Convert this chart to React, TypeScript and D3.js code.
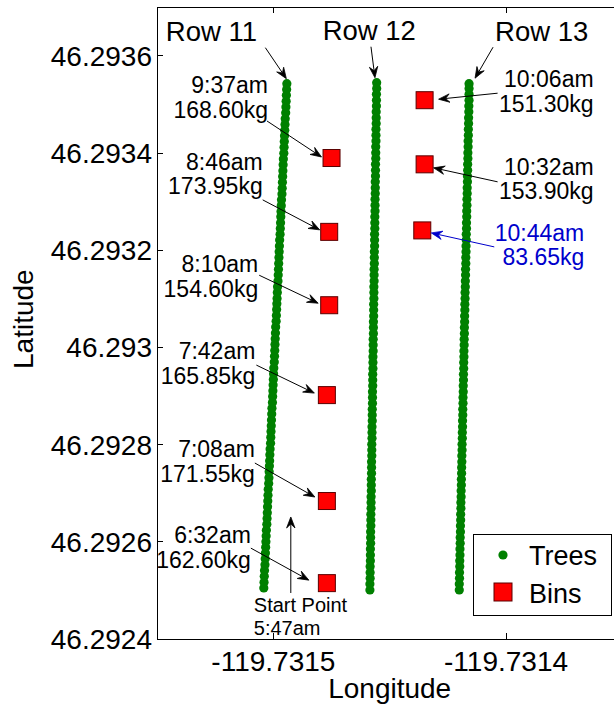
import React from 'react';
import * as d3 from 'd3';

// tree positions: latitude in 1e-6 deg above LAT_BASE, longitude in 1e-7 deg east of LON_BASE
const LAT_BASE = 46.29;
const LON_BASE = -119.7315;

const row11Lat = [
  2505, 2517, 2529, 2541, 2553, 2565, 2577, 2589, 2600, 2612,
  2624, 2636, 2648, 2660, 2672, 2684, 2696, 2708, 2720, 2732,
  2744, 2756, 2767, 2779, 2791, 2803, 2815, 2827, 2839, 2851,
  2863, 2875, 2887, 2899, 2911, 2923, 2934, 2946, 2958, 2970,
  2982, 2994, 3006, 3018, 3030, 3042, 3054, 3066, 3078, 3090,
  3101, 3113, 3125, 3137, 3149, 3161, 3173, 3185, 3197, 3209,
  3221, 3233, 3245, 3257, 3269, 3280, 3292, 3304, 3316, 3328,
  3340, 3352, 3364, 3376, 3388, 3400, 3412, 3424, 3436, 3447,
  3459, 3471, 3483, 3495, 3507, 3519, 3531, 3543,
];
const row11Lon = [
  -41, -40, -39, -38, -36, -35, -34, -33, -32, -31,
  -30, -28, -27, -26, -25, -24, -23, -22, -20, -19,
  -18, -17, -16, -15, -14, -12, -11, -10, -9, -8,
  -7, -6, -4, -3, -2, -1, 0, 1, 2, 4,
  5, 6, 7, 8, 9, 10, 12, 13, 14, 15,
  16, 17, 18, 20, 21, 22, 23, 24, 25, 26,
  27, 29, 30, 31, 32, 33, 34, 35, 37, 38,
  39, 40, 41, 42, 43, 45, 46, 47, 48, 49,
  50, 51, 53, 54, 55, 56, 57, 58,
];
const row12Lat = [
  2501, 2513, 2525, 2537, 2549, 2561, 2573, 2585, 2597, 2609,
  2621, 2633, 2645, 2657, 2669, 2681, 2693, 2705, 2717, 2729,
  2741, 2753, 2765, 2777, 2789, 2801, 2813, 2825, 2837, 2849,
  2861, 2873, 2885, 2897, 2909, 2921, 2933, 2945, 2957, 2969,
  2981, 2993, 3005, 3017, 3029, 3041, 3053, 3065, 3077, 3089,
  3101, 3113, 3125, 3137, 3149, 3161, 3173, 3185, 3197, 3209,
  3221, 3233, 3245, 3257, 3269, 3281, 3293, 3305, 3317, 3329,
  3341, 3353, 3365, 3377, 3389, 3401, 3413, 3425, 3437, 3449,
  3461, 3473, 3485, 3497, 3509, 3521, 3533, 3545,
];
const row12Lon = [
  415, 415, 416, 416, 416, 417, 417, 417, 418, 418,
  418, 419, 419, 419, 420, 420, 420, 421, 421, 421,
  422, 422, 422, 423, 423, 423, 424, 424, 424, 425,
  425, 425, 426, 426, 426, 427, 427, 427, 428, 428,
  428, 429, 429, 429, 430, 430, 430, 431, 431, 431,
  432, 432, 432, 433, 433, 433, 434, 434, 434, 435,
  435, 435, 436, 436, 436, 437, 437, 437, 438, 438,
  438, 439, 439, 439, 440, 440, 440, 441, 441, 441,
  442, 442, 442, 443, 443, 443, 444, 444,
];
const row13Lat = [
  2501, 2513, 2525, 2537, 2549, 2561, 2573, 2585, 2597, 2609,
  2621, 2633, 2645, 2657, 2669, 2681, 2693, 2705, 2717, 2729,
  2741, 2753, 2765, 2777, 2789, 2801, 2813, 2825, 2837, 2849,
  2861, 2873, 2885, 2897, 2909, 2921, 2933, 2945, 2957, 2969,
  2981, 2993, 3005, 3017, 3029, 3041, 3053, 3065, 3077, 3089,
  3101, 3113, 3125, 3137, 3149, 3161, 3173, 3185, 3197, 3209,
  3221, 3233, 3245, 3257, 3269, 3281, 3293, 3305, 3317, 3329,
  3341, 3353, 3365, 3377, 3389, 3401, 3413, 3425, 3437, 3449,
  3461, 3473, 3485, 3497, 3509, 3521, 3533, 3543,
];
const row13Lon = [
  799, 799, 800, 800, 801, 801, 802, 802, 803, 803,
  804, 804, 805, 805, 806, 806, 807, 807, 808, 808,
  809, 809, 810, 810, 811, 811, 812, 812, 813, 813,
  814, 814, 815, 815, 816, 816, 817, 817, 818, 818,
  819, 819, 820, 820, 821, 821, 822, 822, 823, 823,
  824, 824, 825, 825, 826, 826, 827, 827, 828, 828,
  829, 829, 830, 830, 831, 831, 832, 832, 833, 833,
  834, 834, 835, 835, 836, 836, 837, 837, 838, 838,
  839, 839, 840, 840, 841, 841, 841, 841,
];
const rowNames = ['Row 11', 'Row 12', 'Row 13'];

// bins, in order of pickup
const binTimes = ['6:32am', '7:08am', '7:42am', '8:10am', '8:46am', '9:37am', '10:06am', '10:32am', '10:44am'];
const binWeights = [162.6, 171.55, 165.85, 154.6, 173.95, 168.6, 151.3, 153.9, 83.65];
const binLon = [-119.731477, -119.731477, -119.731477, -119.731476, -119.731476, -119.731475, -119.731435, -119.731435, -119.731436];
const binLat = [46.292515, 46.292684, 46.292902, 46.293087, 46.293238, 46.29339, 46.293509, 46.293377, 46.293241];
const startTime = '5:47am';

const latTicks = [46.2924, 46.2926, 46.2928, 46.293, 46.2932, 46.2934, 46.2936];
const lonTicks = [-119.7315, -119.7314];

// label / arrow placement relative to each bin (px): text anchor, arrow tail, arrow tip
const binLabelLayout = [
  { lx: -76, ly: -40, tx: -76, ty: -35, hx: -18, hy: -3, color: '#000' },
  { lx: -72, ly: -44, tx: -72, ty: -38, hx: -12, hy: -4, color: '#000' },
  { lx: -71.5, ly: -36, tx: -70.5, ty: -30, hx: -12.5, hy: -2, color: '#000' },
  { lx: -71, ly: -33, tx: -70, ty: -30, hx: -11, hy: -2, color: '#000' },
  { lx: -66.5, ly: -62, tx: -66.5, ty: -32, hx: -9.5, hy: -2, color: '#000' },
  { lx: -63.5, ly: -65, tx: -64.5, ty: -37, hx: -10, hy: -1, color: '#000' },
  { lx: 169, ly: -13, tx: 73, ty: -7, hx: 14, hy: -1, color: '#000' },
  { lx: 169, ly: 10.5, tx: 73, ty: 17.5, hx: 9, hy: 3.5, color: '#000' },
  { lx: 162, ly: 10.5, tx: 72, ty: 16.5, hx: 9, hy: 2.5, color: '#0000cc' },
];
// row label placement relative to the top tree of each row
const rowLabelLayout = [
  { lx: -121, ly: -43, tx: -21.5, ty: -36, hx: -0.5, hy: -5 },
  { lx: -54, ly: -43, tx: -5.7, ty: -36, hx: -1.7, hy: -5 },
  { lx: 26, ly: -43, tx: 24, ty: -36.5, hx: 6, hy: -5.5 },
];

const W = 614;
const H = 706;
const FONT = "'Liberation Sans', Arial, Helvetica, sans-serif";
const GREEN = '#008000';

function arrowHead(x1: number, y1: number, x2: number, y2: number, len = 11, half = 4.2, notch = 7) {
  const a = Math.atan2(y2 - y1, x2 - x1);
  const c = Math.cos(a);
  const s = Math.sin(a);
  const bx = x2 - len * c;
  const by = y2 - len * s;
  const nx = x2 - notch * c;
  const ny = y2 - notch * s;
  return {
    head: `M${x2},${y2}L${bx - half * s},${by + half * c}L${nx},${ny}L${bx + half * s},${by - half * c}Z`,
    nx,
    ny,
  };
}

function Arrow({ x1, y1, x2, y2, color = '#000' }: { x1: number; y1: number; x2: number; y2: number; color?: string }) {
  const a = arrowHead(x1, y1, x2, y2);
  return (
    <g>
      <line x1={x1} y1={y1} x2={a.nx} y2={a.ny} stroke={color} strokeWidth={1} />
      <path d={a.head} fill={color} stroke={color} strokeWidth={0.8} />
    </g>
  );
}

const App = () => {
  const x = d3.scaleLinear().domain([-119.73155, -119.73135]).range([157, 622.4]);
  const y = d3.scaleLinear().domain([46.2924, 46.2937]).range([639, 7.4]);
  const [x0, x1] = x.range();
  const [y0, y1] = y.range();

  const rows = [
    { lat: row11Lat, lon: row11Lon },
    { lat: row12Lat, lon: row12Lon },
    { lat: row13Lat, lon: row13Lon },
  ].map(r => r.lat.map((la, i) => ({ px: x(LON_BASE + r.lon[i] * 1e-7), py: y(LAT_BASE + la * 1e-6) })));

  const bins = binTimes.map((t, i) => ({
    time: t,
    weight: binWeights[i].toFixed(2) + 'kg',
    px: x(binLon[i]),
    py: y(binLat[i]),
    ...binLabelLayout[i],
  }));

  const start = rows[0][0];
  const binSize = 17;

  return (
    <svg width={W} height={H} style={{ position: 'absolute', left: 0, top: 0, background: '#fff' }} fontFamily={FONT}>
      <rect width={W} height={H} fill="#fff" />

      {/* trees */}
      {rows.map((r, ri) => (
        <g key={ri} fill={GREEN}>
          {r.map((d, i) => <circle key={i} cx={d.px} cy={d.py} r={4.6} />)}
        </g>
      ))}

      {/* bins */}
      {bins.map((b, i) => (
        <rect key={i} x={b.px - binSize / 2} y={b.py - binSize / 2} width={binSize} height={binSize}
          fill="#ff0000" stroke="#5a0000" strokeWidth={1} />
      ))}

      {/* bin annotations */}
      {bins.map((b, i) => (
        <g key={i} fill={b.color}>
          <text x={b.px + b.lx} y={b.py + b.ly} fontSize={23} textAnchor="end">{b.time}</text>
          <text x={b.px + b.lx} y={b.py + b.ly + 24.5} fontSize={23} textAnchor="end">{b.weight}</text>
          <Arrow x1={b.px + b.tx} y1={b.py + b.ty} x2={b.px + b.hx} y2={b.py + b.hy} color={b.color} />
        </g>
      ))}

      {/* row labels */}
      {rows.map((r, i) => {
        const top = r[r.length - 1];
        const l = rowLabelLayout[i];
        return (
          <g key={i}>
            <text x={top.px + l.lx} y={top.py + l.ly} fontSize={27.5}>{rowNames[i]}</text>
            <Arrow x1={top.px + l.tx} y1={top.py + l.ty} x2={top.px + l.hx} y2={top.py + l.hy} />
          </g>
        );
      })}

      {/* start point */}
      <Arrow x1={start.px + 27} y1={start.py + 5} x2={start.px + 27} y2={start.py - 71} />
      <text x={start.px - 10} y={start.py + 24} fontSize={20}>Start Point</text>
      <text x={start.px - 10} y={start.py + 47} fontSize={20}>{startTime}</text>

      {/* axes box */}
      <g stroke="#000" strokeWidth={1} fill="none" shapeRendering="crispEdges">
        <rect x={x0} y={y1} width={x1 - x0} height={y0 - y1} />
        {latTicks.map(t => <line key={t} x1={x0} x2={x0 + 6} y1={y(t)} y2={y(t)} />)}
        {lonTicks.map(t => (
          <g key={t}>
            <line x1={x(t)} x2={x(t)} y1={y0} y2={y0 - 6} />
            <line x1={x(t)} x2={x(t)} y1={y1} y2={y1 + 6} />
          </g>
        ))}
      </g>
      {latTicks.map(t => (
        <text key={t} x={x0 - 5} y={y(t) + 10} fontSize={28} textAnchor="end" fill="#000">{String(t)}</text>
      ))}
      {lonTicks.map(t => (
        <text key={t} x={x(t)} y={671} fontSize={28} textAnchor="middle" fill="#000">{String(t)}</text>
      ))}
      <text x={(x0 + x1) / 2} y={698} fontSize={28} textAnchor="middle">Longitude</text>
      <text transform={`translate(33,${(y0 + y1) / 2 - 4}) rotate(-90)`} fontSize={28} textAnchor="middle">Latitude</text>

      {/* legend */}
      <g>
        <rect x={473} y={534} width={138} height={81} fill="#fff" stroke="#000" strokeWidth={1} shapeRendering="crispEdges" />
        <circle cx={503} cy={555} r={4.6} fill={GREEN} />
        <text x={529} y={565} fontSize={27}>Trees</text>
        <rect x={494} y={583} width={18} height={18} fill="#ff0000" stroke="#5a0000" strokeWidth={1} />
        <text x={529} y={603} fontSize={27}>Bins</text>
      </g>
    </svg>
  );
};

export default App;
